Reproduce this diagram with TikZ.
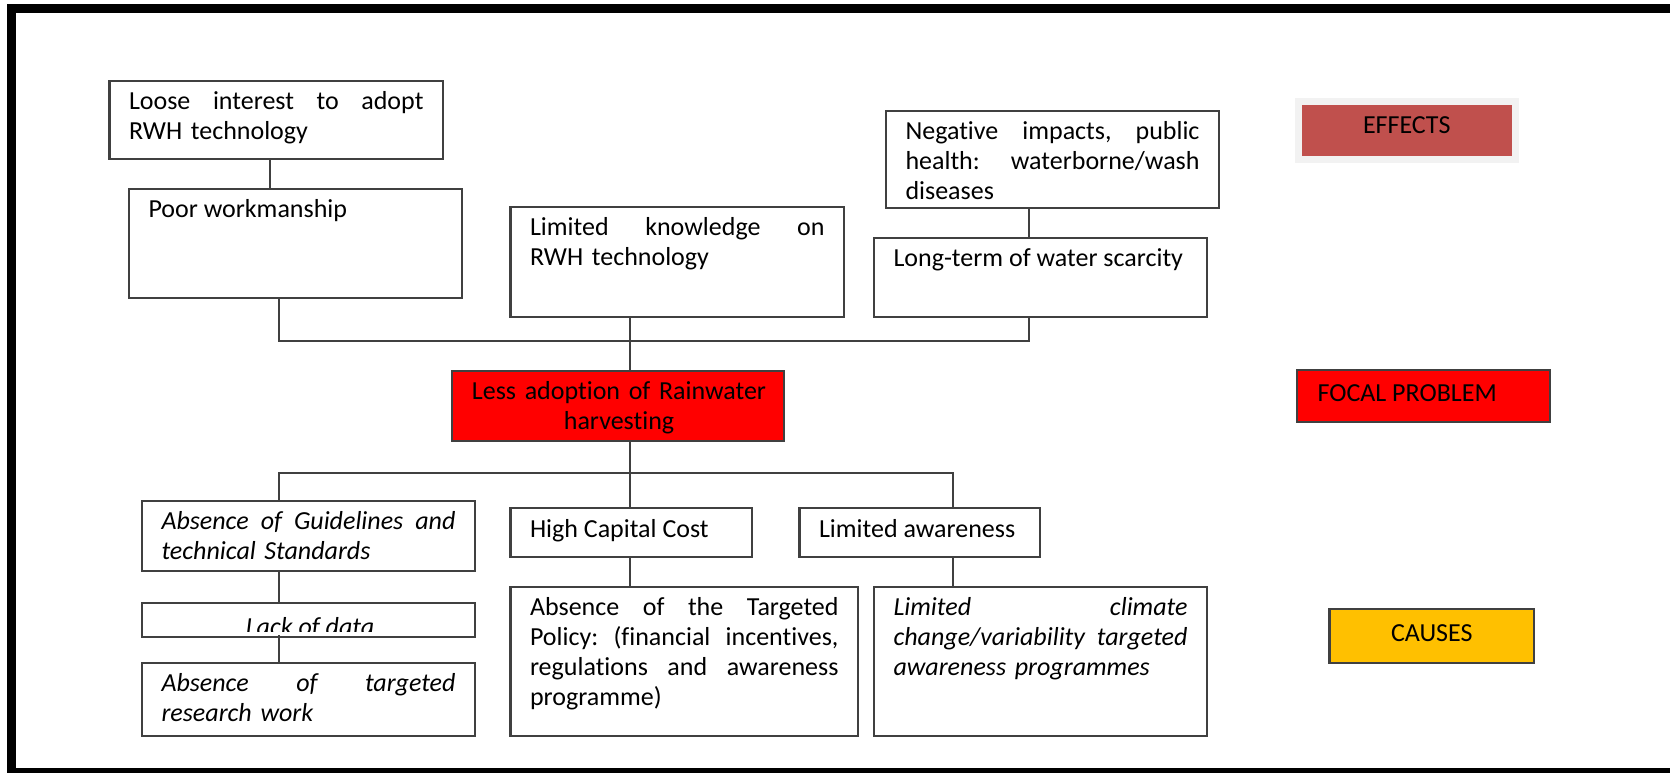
\documentclass[tikz,border=0pt]{standalone}
\usepackage{fontspec}
\setmainfont{Carlito}[Ligatures=NoCommon]
\usetikzlibrary{backgrounds}
\definecolor{boxc}{HTML}{404040}
\definecolor{focalred}{HTML}{FF0000}
\definecolor{effred}{HTML}{C0504D}
\definecolor{effframe}{HTML}{F2F2F2}
\definecolor{effshadow}{HTML}{C9B1B1}
\definecolor{causesc}{HTML}{FFC000}
\begin{document}
\begin{tikzpicture}[x=1pt,y=-1pt]
\tikzset{
  box/.style={draw=boxc, line width=2.2pt, inner sep=0pt, outer sep=0pt, anchor=north west},
  txt/.style={anchor=north west, inner sep=0pt, outer sep=0pt, align=left, font=\fontsize{26}{30}\selectfont},
  ctxt/.style={anchor=north, inner sep=0pt, outer sep=0pt, align=center, font=\fontsize{26}{30}\selectfont},
  link/.style={draw=boxc, line width=2pt},
}
\useasboundingbox (0,0) rectangle (1670,772);
\clip (0,0) rectangle (1670,772);
\fill[white] (0,0) rectangle (1670,772);

% outer frame (right side lies outside the picture)
\draw[line width=9pt, line join=miter] (1720,8.5) -- (11.5,8.5) -- (11.5,772.5) -- (1720,772.5);

% ---------- effects ----------
\node[box, minimum width=333.5pt, minimum height=78pt] (loose) at (109.5,81) {};
\node[box, minimum width=333pt, minimum height=109pt] (poor) at (129,189) {};
\node[box, minimum width=333.5pt, minimum height=110pt] (knowledge) at (510.5,207) {};
\node[box, minimum width=333pt, minimum height=97pt] (negative) at (886,111) {};
\node[box, minimum width=333pt, minimum height=79pt] (longterm) at (874,238) {};

% ---------- focal ----------
\node[box, fill=focalred, minimum width=332pt, minimum height=70pt] (focal) at (452,371) {};

% ---------- causes ----------
\node[box, minimum width=333pt, minimum height=70pt] (guidelines) at (142,501) {};
\node[box, minimum width=241.5pt, minimum height=49pt] (capital) at (510.5,508) {};
\node[box, minimum width=240.5pt, minimum height=49pt] (awareness) at (799.5,508) {};
\node[box, minimum width=333pt, minimum height=34pt] (lackdata) at (142,603) {};
\node[box, minimum width=333pt, minimum height=73pt] (research) at (142,663) {};
\node[box, minimum width=347.5pt, minimum height=149pt] (policy) at (510.5,587) {};
\node[box, minimum width=333pt, minimum height=149pt] (climate) at (874,587) {};

% ---------- legend ----------
\node[draw=effframe, fill=effred, line width=7pt, inner sep=0pt, outer sep=0pt, anchor=north west,
      minimum width=216.5pt, minimum height=58pt] (effects) at (1298.5,101) {};
\begin{scope}[on background layer]
  \fill[effshadow] ([shift={(-0.5,0)}]effects.north west) rectangle ([shift={(6,6)}]effects.south east);
\end{scope}
\node[box, fill=focalred, minimum width=253pt, minimum height=52pt] (focalproblem) at (1297,370) {};
\node[box, fill=causesc, minimum width=204.5pt, minimum height=54pt] (causes) at (1329.5,609) {};

% ---------- connectors ----------
\coordinate (bus1L) at (279,341);
\coordinate (bus1M) at (629.5,341);
\coordinate (bus1R) at (1029,341);
\draw[link] ([xshift=-6pt]loose.south) -- ([xshift=-6pt]loose.south |- poor.north);
\draw[link] (negative.south -| bus1R) -- (longterm.north -| bus1R);
\draw[link] (poor.south -| bus1L) -- (bus1L) -- (bus1R) -- (longterm.south -| bus1R);
\draw[link] (knowledge.south -| bus1M) -- (focal.north -| bus1M);

\coordinate (bus2L) at (279,473);
\coordinate (bus2M) at (630,473);
\coordinate (bus2R) at (953,473);
\draw[link] (focal.south -| bus2M) -- (capital.north -| bus2M);
\draw[link] (guidelines.north -| bus2L) -- (bus2L) -- (bus2R) -- (awareness.north -| bus2R);
\draw[link] (capital.south -| bus2M) -- (policy.north -| bus2M);
\draw[link] (awareness.south -| bus2R) -- (climate.north -| bus2R);
\draw[link] (guidelines.south -| bus2L) -- (lackdata.north -| bus2L);
\draw[link] ([yshift=2pt]lackdata.south -| bus2L) -- (research.north -| bus2L);

% ---------- texts ----------
\node[txt, text width=294.5pt] (tloose) at ([shift={(19.5,7)}]loose.north west)
  {\strut Loose\hfill interest\hfill to\hfill adopt\\RWH technology};
\node[txt] (tpoor) at ([shift={(19.5,7)}]poor.north west)
  {\strut Poor workmanship};
\node[txt, text width=294.5pt] (tknowledge) at ([shift={(19.5,7)}]knowledge.north west)
  {\strut Limited\hfill knowledge\hfill on\\RWH technology};
\node[txt, text width=294pt] (tnegative) at ([shift={(19.5,7)}]negative.north west)
  {\strut Negative\hfill impacts,\hfill public\\health:\hfill waterborne/wash\\diseases};
\node[txt] (tlongterm) at ([shift={(19.5,7)}]longterm.north west)
  {\strut Long-term of water scarcity};
\node[ctxt, text width=320pt] (tfocal) at ([shift={(1,7)}]focal.north)
  {\strut Less adoption of Rainwater\\harvesting};
\node[txt, font=\itshape\fontsize{26}{30}\selectfont, text width=294pt] (tguidelines) at ([shift={(19.5,7)}]guidelines.north west)
  {\strut Absence\hfill of\hfill Guidelines\hfill and\\technical Standards};
\node[txt] (tcapital) at ([shift={(19.5,8)}]capital.north west)
  {\strut High Capital Cost};
\node[txt] (tawareness) at ([shift={(19.5,8)}]awareness.north west)
  {\strut Limited awareness};
\begin{scope}
  \clip ([shift={(2,2)}]lackdata.north west) rectangle ([shift={(-2,-6)}]lackdata.south east);
  \node[ctxt, font=\itshape\fontsize{26}{30}\selectfont] (tlackdata) at ([shift={(1.5,11)}]lackdata.north)
    {\strut Lack of data};
\end{scope}
\node[txt, font=\itshape\fontsize{26}{30}\selectfont, text width=294pt] (tresearch) at ([shift={(19.5,7)}]research.north west)
  {\strut Absence\hfill of\hfill targeted\\research work};
\node[txt, text width=308.5pt] (tpolicy) at ([shift={(19.5,7)}]policy.north west)
  {\strut Absence\hfill of\hfill the\hfill Targeted\\Policy:\hfill (financial\hfill incentives,\\regulations\hfill and\hfill awareness\\programme)};
\node[txt, font=\itshape\fontsize{26}{30}\selectfont, text width=294pt] (tclimate) at ([shift={(19.5,7)}]climate.north west)
  {\strut Limited\hfill climate\\change/variability\hfill targeted\\awareness programmes};

\node[ctxt] (teffects) at ([shift={(0,11.5)}]effects.north) {\strut EFFECTS};
\node[txt] (tfocalproblem) at ([shift={(20.6,10)}]focalproblem.north west) {\strut FOCAL PROBLEM};
\node[ctxt] (tcauses) at ([shift={(0,11.7)}]causes.north) {\strut CAUSES};
\end{tikzpicture}
\end{document}
